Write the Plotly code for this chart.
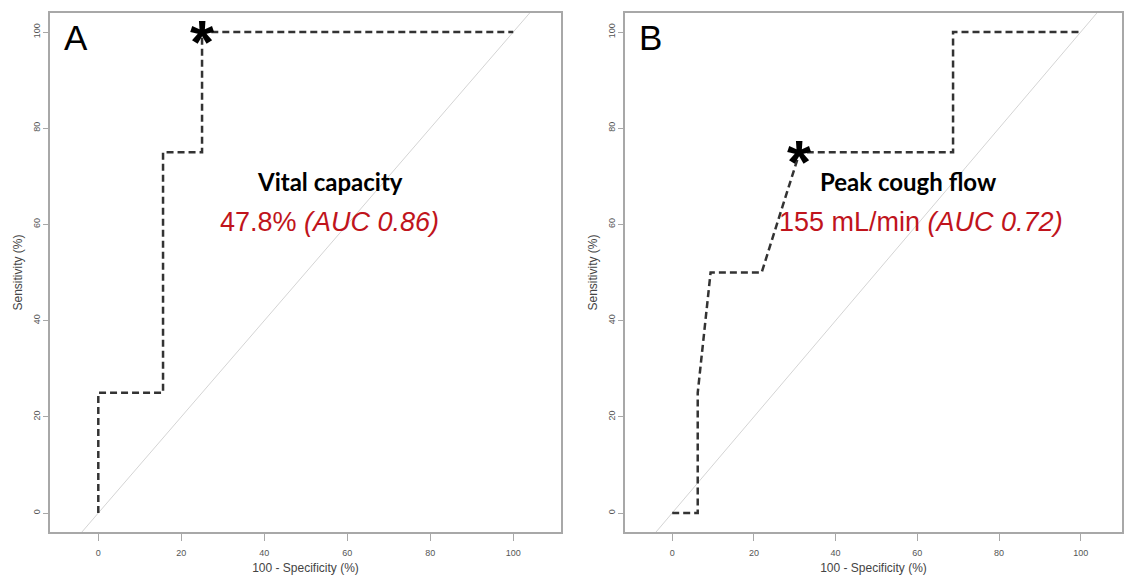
import plotly.graph_objects as go

# ---- data ----
a_fpr = [0, 0, 15.6, 15.6, 25, 25, 100]          # 100 - specificity (%)
a_tpr = [0, 25, 25, 75, 75, 100, 100]            # sensitivity (%)
a_cut = (25, 100)
a_name = "Vital capacity"
a_value = "47.8%"
a_auc = "(AUC 0.86)"

b_fpr = [0, 6.25, 6.25, 9.4, 21.9, 31.2, 68.75, 68.75, 100]
b_tpr = [0, 0, 25, 50, 50, 75, 75, 100, 100]
b_cut = (31.2, 75)
b_name = "Peak cough flow"
b_value = "155 mL/min"
b_auc = "(AUC 0.72)"

ticks = [0, 20, 40, 60, 80, 100]
diag = [-20, 130]

W, H = 1125, 578
fig = go.Figure()

panels = [
    ("x", "y", a_fpr, a_tpr, a_cut, a_name, a_value, a_auc, "A", [-11.64, 111.5]),
    ("x2", "y2", b_fpr, b_tpr, b_cut, b_name, b_value, b_auc, "B", [-11.55, 110.1]),
]

RED = "#c0141c"
for xa, ya, fx, ty, cut, name, val, auc, letter, xr in panels:
    fig.add_trace(go.Scatter(x=diag, y=diag, xaxis=xa, yaxis=ya, mode="lines",
                             line=dict(color="#d4d4d4", width=1), hoverinfo="skip",
                             showlegend=False))
    fig.add_trace(go.Scatter(x=fx, y=ty, xaxis=xa, yaxis=ya, mode="lines",
                             line=dict(color="#333333", width=2.5, dash="7px,4px"),
                             showlegend=False))
    # optimal cut-off star
    fig.add_annotation(x=cut[0], y=cut[1], xref=xa, yref=ya, text="<b>*</b>",
                       showarrow=False, font=dict(family="Liberation Sans", size=62, color="black"),
                       xanchor="center", yanchor="middle", yshift=-9)
    # panel letter
    fig.add_annotation(x=-5.3, y=98.9, xref=xa, yref=ya, text=letter, showarrow=False,
                       font=dict(family="Liberation Sans", size=35, color="black"),
                       xanchor="center", yanchor="middle")

# text labels
fig.add_annotation(x=55.8, y=68.9, xref="x", yref="y", text="<b>" + a_name + "</b>",
                   showarrow=False, font=dict(family="Lato", size=24, color="black"))
fig.add_annotation(x=55.6, y=60.6, xref="x", yref="y",
                   text=a_value + " <i>" + a_auc + "</i>",
                   showarrow=False, font=dict(family="Liberation Sans", size=27, color=RED))
fig.add_annotation(x=57.8, y=68.9, xref="x2", yref="y2", text="<b>" + b_name + "</b>",
                   showarrow=False, font=dict(family="Lato", size=24, color="black"))
fig.add_annotation(x=61.0, y=60.6, xref="x2", yref="y2",
                   text=b_value + " <i>" + b_auc + "</i>",
                   showarrow=False, font=dict(family="Liberation Sans", size=27, color=RED))

ydom = [1 - 532 / H, 1 - 13 / H]
axis_common = dict(showgrid=False, zeroline=False, showline=True, mirror=True,
                   linecolor="#a8a8a8", linewidth=1.5, ticks="outside",
                   tickcolor="#a8a8a8", tickvals=ticks,
                   tickfont=dict(family="Liberation Sans", size=9, color="#555555"),
                   title_font=dict(family="Liberation Sans", size=12, color="#444444"),
                   fixedrange=True)
xaxis_extra = dict(ticklen=7, ticklabelstandoff=4,
                   title=dict(text="100 - Specificity (%)", standoff=7))
yaxis_extra = dict(ticklen=5, tickangle=-90,
                   title=dict(text="Sensitivity (%)", standoff=6))

fig.update_layout(
    width=W, height=H, margin=dict(l=0, r=0, t=0, b=0),
    paper_bgcolor="white", plot_bgcolor="white",
    xaxis=dict(domain=[50 / W, 561 / W], range=panels[0][9], anchor="y",
               **xaxis_extra, **axis_common),
    yaxis=dict(domain=ydom, range=[-3.95, 103.95], anchor="x",
               **yaxis_extra, **axis_common),
    xaxis2=dict(domain=[625 / W, 1122 / W], range=panels[1][9], anchor="y2",
                **xaxis_extra, **axis_common),
    yaxis2=dict(domain=ydom, range=[-3.95, 103.95], anchor="x2",
                **yaxis_extra, **axis_common),
)

fig.write_html("out.html", config={"displayModeBar": False},
               post_script="document.body.style.margin='0';document.body.style.overflow='hidden';")
